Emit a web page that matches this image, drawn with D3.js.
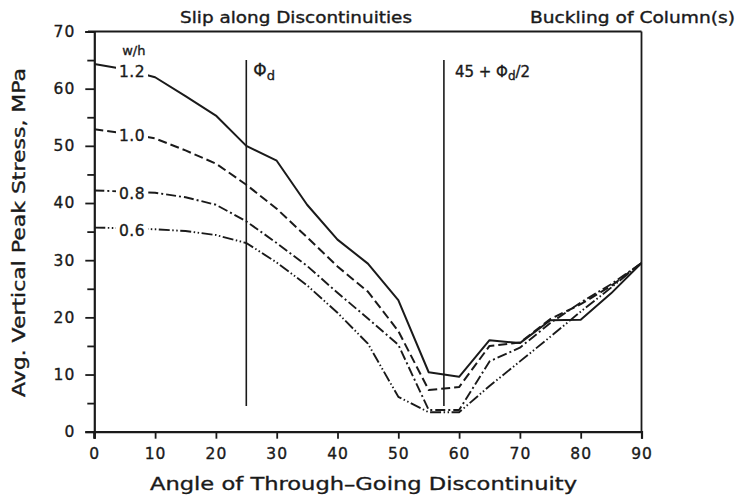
<!DOCTYPE html>
<html><head><meta charset="utf-8">
<script src="https://cdn.jsdelivr.net/npm/d3@7"></script>
<style>
body{margin:0;background:#fff;}
svg text{font-family:"DejaVu Sans",sans-serif;fill:#1a1a1a;stroke:#1a1a1a;stroke-width:0.35px;}
</style></head>
<body>
<svg id="chart" width="737" height="500"></svg>
<script>
// ---- data ----
const angles = [0,5,10,15,20,25,30,35,40,45,50,55,60,65,70,75,80,85,90];
const wh12 = [64.3,63.4,62.0,58.7,55.3,50.0,47.4,39.7,33.6,29.4,23.0,10.4,9.6,16.0,15.5,19.5,19.6,24.2,29.5];
const wh10 = [52.9,52.2,51.3,49.2,46.9,43.2,39.0,34.0,28.9,24.5,17.6,7.3,7.8,15.0,15.6,19.7,22.3,25.5,29.5];
const wh08 = [42.2,42.0,41.8,41.0,39.7,36.8,33.0,29.0,24.3,19.8,15.2,3.8,3.8,12.3,14.7,19.0,22.6,25.8,29.5];
const wh06 = [35.7,35.6,35.4,35.1,34.4,33.0,29.6,25.6,20.8,15.4,6.1,3.4,3.4,8.0,12.3,16.6,21.0,25.2,29.5];
const seriesNames = ["1.2","1.0","0.8","0.6"];
const xTicks = [0,10,20,30,40,50,60,70,80,90];
const yTicks = [0,10,20,30,40,50,60,70];
const yMinorTicks = [5,15,25,35,45,55,65];
const phiD = 25;
const phiLine2 = 45 + phiD/2;
const markerRange = [4.5, 65];

const svg = d3.select("#chart");
const ink = "#1a1a1a";
const x = d3.scaleLinear().domain([0,90]).range([94.3,641.5]);
const y = d3.scaleLinear().domain([0,70]).range([431.7,31.5]);

// frame top & right
svg.append("line").attr("x1",88).attr("x2",x(90)).attr("y1",y(70)).attr("y2",y(70))
  .attr("stroke",ink).attr("stroke-width",2);
svg.append("line").attr("x1",x(90)).attr("x2",x(90)).attr("y1",y(70)).attr("y2",y(0))
  .attr("stroke",ink).attr("stroke-width",1.8);

// y axis
svg.append("g").attr("transform",`translate(${x(0)},0)`)
  .call(d3.axisLeft(y).tickValues(yTicks).tickSize(9).tickPadding(10).tickFormat(d3.format("d")));
svg.append("g").attr("transform",`translate(${x(0)},0)`)
  .call(d3.axisLeft(y).tickValues(yMinorTicks).tickSize(7).tickFormat(""))
  .select(".domain").remove();
// x axis
svg.append("g").attr("transform",`translate(0,${y(0)})`)
  .call(d3.axisBottom(x).tickValues(xTicks).tickSize(7).tickPadding(9).tickFormat(d3.format("d")));
svg.selectAll(".domain").attr("stroke",ink).attr("stroke-width",2.2);
svg.selectAll(".tick line").attr("stroke",ink).attr("stroke-width",1.8);
svg.selectAll(".tick text").style("font-size","15.5px").style("letter-spacing","1px").attr("fill",ink);
svg.append("line").attr("x1",x(0)).attr("x2",x(0)).attr("y1",y(0)).attr("y2",y(0)+7)
  .attr("stroke",ink).attr("stroke-width",2.2);

// vertical reference lines
[phiD, phiLine2].forEach(v=>{
  svg.append("line").attr("x1",x(v)).attr("x2",x(v))
    .attr("y1",y(markerRange[1])).attr("y2",y(markerRange[0]))
    .attr("stroke",ink).attr("stroke-width",1.6);
});

// curves
const series = [wh12, wh10, wh08, wh06];
const dashes = [null, "9,4", "10,3,2,3", "11,2.5,1.5,2.5,1.5,2.5"];
const widths = [2,2,1.9,1.9];
const line = d3.line().x((d,i)=>x(angles[i])).y(d=>y(d));
series.forEach((s,k)=>{
  svg.append("path").datum(s).attr("d",line).attr("fill","none")
    .attr("stroke",ink).attr("stroke-width",widths[k])
    .attr("stroke-dasharray",dashes[k]).attr("stroke-linejoin","round");
});

// inline series labels
series.forEach((s,k)=>{
  const lx = x(6.2), ly = y(s[1]) + 2;
  svg.append("rect").attr("x",lx-16).attr("y",ly-8).attr("width",32).attr("height",15).attr("fill","#fff");
  svg.append("text").attr("x",lx).attr("y",ly+5.5).attr("text-anchor","middle")
    .style("font-size","15.5px").style("letter-spacing","0.5px").text(seriesNames[k]);
});
svg.append("text").attr("x",x(6.5)).attr("y",55).attr("text-anchor","middle")
  .style("font-size","13px").text("w/h");

// phi labels
const t1 = svg.append("text").attr("x",x(phiD)+7).attr("y",76).style("font-size","17px");
t1.append("tspan").text("Φ");
t1.append("tspan").attr("dy",4).style("font-size","13px").text("d");
const t2 = svg.append("text").attr("x",x(phiLine2)+11).attr("y",77).style("font-size","15px");
t2.append("tspan").text("45 + Φ");
t2.append("tspan").attr("dy",3).style("font-size","12px").text("d");
t2.append("tspan").attr("dy",-3).text("/2");

// titles
svg.append("text").attr("x",180).attr("y",23).style("font-size","15px")
  .attr("textLength",232).attr("lengthAdjust","spacingAndGlyphs").text("Slip along Discontinuities");
svg.append("text").attr("x",530).attr("y",23).style("font-size","15px")
  .attr("textLength",205).attr("lengthAdjust","spacingAndGlyphs").text("Buckling of Column(s)");

// axis titles
svg.append("text").attr("x",150).attr("y",490).style("font-size","18px")
  .attr("textLength",427).attr("lengthAdjust","spacingAndGlyphs").text("Angle of Through–Going Discontinuity");
svg.append("text").attr("transform","translate(25,397) rotate(-90)").style("font-size","17px")
  .attr("textLength",329).attr("lengthAdjust","spacingAndGlyphs").text("Avg. Vertical Peak Stress, MPa");
</script>
</body></html>
